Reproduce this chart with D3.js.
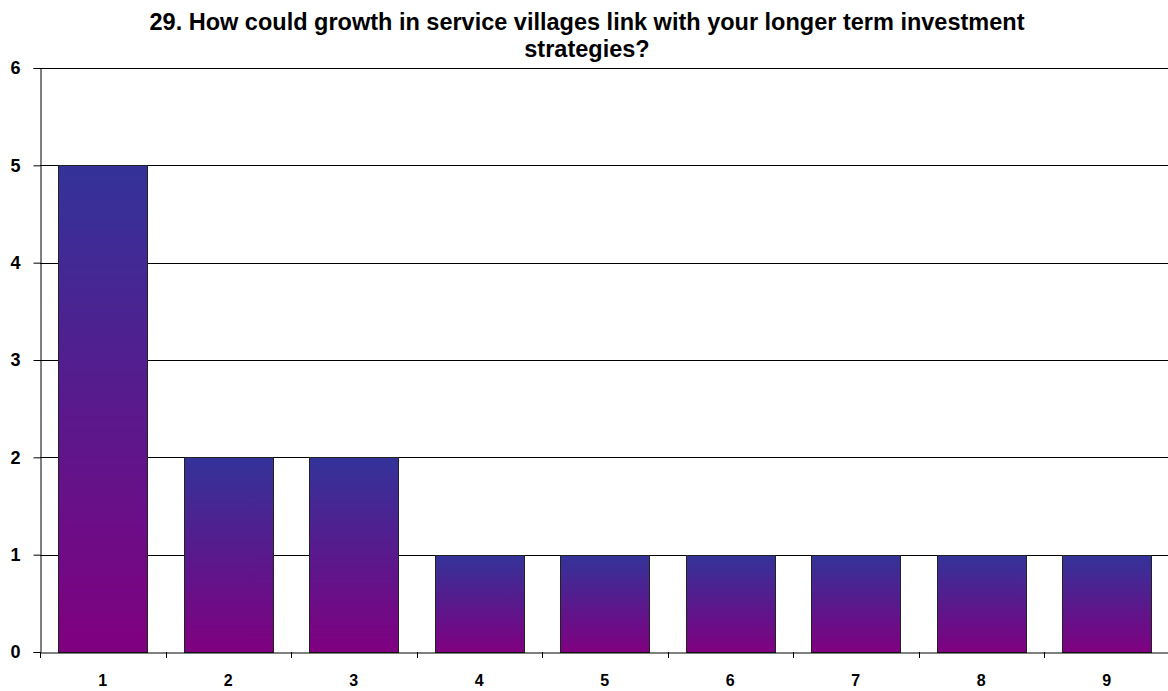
<!DOCTYPE html>
<html><head><meta charset="utf-8">
<script src="https://cdn.jsdelivr.net/npm/d3@7"></script>
<style>body{margin:0;background:#fff;} svg{display:block;}</style>
</head><body>
<svg id="c" width="1168" height="691"></svg>
<script>
const categories = ["1","2","3","4","5","6","7","8","9"];
const values = [5,2,2,1,1,1,1,1,1];
const yTicks = [0,1,2,3,4,5,6];
const titleLines = ["29. How could growth in service villages link with your longer term investment","strategies?"];

const svg = d3.select("#c");
const m = {left:40, right:1169.5, top:68, bottom:652};
const x = d3.scaleBand().domain(categories).range([m.left, m.right]).paddingInner(0.29).paddingOuter(0.145);
const y = d3.scaleLinear().domain([0,6]).range([m.bottom, m.top]);
const FONT = "Arial, 'Liberation Sans', sans-serif";

const defs = svg.append("defs");
const g = defs.append("linearGradient").attr("id","grad").attr("x1",0).attr("y1",0).attr("x2",0).attr("y2",1);
g.append("stop").attr("offset","0%").attr("stop-color","#333399");
g.append("stop").attr("offset","100%").attr("stop-color","#800080");

// gridlines
svg.append("g").selectAll("line").data(yTicks.filter(d=>d>0)).join("line")
  .attr("x1",m.left).attr("x2",1168).attr("y1",d=>Math.round(y(d))+0.5).attr("y2",d=>Math.round(y(d))+0.5)
  .attr("stroke","#000").attr("stroke-width",1);

// bars
svg.append("g").selectAll("rect").data(values).join("rect")
  .attr("x",(d,i)=>Math.round(x(categories[i]))+0.5)
  .attr("y",d=>Math.round(y(d))+0.5)
  .attr("width",Math.round(x.bandwidth()))
  .attr("height",d=>Math.round(y(0))-Math.round(y(d)))
  .attr("fill","url(#grad)").attr("stroke","#222").attr("stroke-width",1);

// y axis
const ya = svg.append("g").attr("transform",`translate(${m.left+0.5},0)`)
  .call(d3.axisLeft(y).tickValues(yTicks).tickSize(7).tickPadding(13).tickFormat(d3.format("d")));
ya.select(".domain").attr("stroke","#000");
ya.selectAll(".tick line").attr("stroke","#000");
ya.selectAll("text").attr("font-family",FONT).attr("font-size",18).attr("font-weight","bold").attr("fill","#000");

// x axis
const xa = svg.append("g").attr("transform",`translate(0,${Math.round(m.bottom)+0.5})`)
  .call(d3.axisBottom(x).tickSize(0).tickPadding(22));
xa.select(".domain").attr("stroke","#000");
xa.selectAll("text").attr("font-family",FONT).attr("font-size",16).attr("font-weight","bold").attr("fill","#000");
// x tick marks at band boundaries
svg.append("g").selectAll("line").data(categories).join("line")
  .attr("x1",d=>Math.round(x(d)-x.step()*x.paddingOuter())+0.5)
  .attr("x2",d=>Math.round(x(d)-x.step()*x.paddingOuter())+0.5)
  .attr("y1",m.bottom).attr("y2",m.bottom+6).attr("stroke","#000");

// title
svg.append("g").selectAll("text").data(titleLines).join("text")
  .attr("x",587).attr("y",(d,i)=>30+i*27).attr("text-anchor","middle")
  .attr("font-family",FONT).attr("font-size",23.5).attr("font-weight","bold").attr("fill","#000")
  .text(d=>d);
</script>
</body></html>
